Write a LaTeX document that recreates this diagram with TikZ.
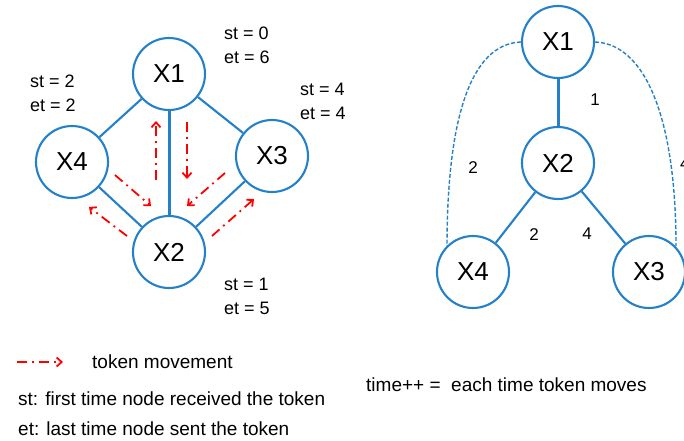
\documentclass[tikz,border=0pt]{standalone}
\usepackage{fontspec}
\setmainfont{Liberation Sans}
\usetikzlibrary{arrows.meta}
\definecolor{nblue}{RGB}{36,128,200}
\definecolor{tred}{RGB}{255,0,0}
\tikzset{
  vnode/.style={circle,draw=nblue,line width=2.1pt,minimum size=72pt,inner sep=0pt,font=\fontsize{26}{28}\selectfont},
  edge/.style={draw=nblue,line width=2.1pt},
  thickedge/.style={draw=nblue,line width=3pt},
  dashedge/.style={draw=nblue,line width=1.4pt,dash pattern=on 4pt off 2pt},
  tok/.style={draw=tred,line width=1.8pt,dash pattern=on 10pt off 5pt on 1.8pt off 5pt,-{Straight Barb[length=5pt,width=9pt,line width=1.8pt]}},
  lbl/.style={font=\fontsize{18}{21}\selectfont,anchor=west,inner sep=0pt,align=left},
  num/.style={font=\fontsize{17}{20}\selectfont,inner sep=0pt},
  note/.style={font=\fontsize{19}{22}\selectfont,anchor=west,inner sep=0pt}
}
\begin{document}
\begin{tikzpicture}[x=1pt,y=-1pt]
\useasboundingbox (0,0) rectangle (684,440);
% left graph
\node[vnode] (a1) at (169,74) {X1};
\node[vnode] (a4) at (72,162) {X4};
\node[vnode] (a3) at (272,156) {X3};
\node[vnode] (a2) at (169,252) {X2};
\draw[edge] (a1) -- (a4);
\draw[edge] (a1) -- (a3);
\draw[thickedge] (a1) -- (a2);
\draw[edge] (a2) -- (a4);
\draw[edge] (a2) -- (a3);
% token arrows
\coordinate (t1s) at (156,180); \coordinate (t1e) at (156,121);
\coordinate (t2s) at (187,122); \coordinate (t2e) at (187,179);
\coordinate (t3s) at (115,175); \coordinate (t3e) at (151,206);
\coordinate (t4s) at (127,236); \coordinate (t4e) at (89,207);
\coordinate (t5s) at (225,173); \coordinate (t5e) at (187,206);
\coordinate (t6s) at (212,236); \coordinate (t6e) at (254,199);
\draw[tok] (t1s) -- (t1e);
\draw[tok] (t2s) -- (t2e);
\draw[tok] (t3s) -- (t3e);
\draw[tok] (t4s) -- (t4e);
\draw[tok] (t5s) -- (t5e);
\draw[tok] (t6s) -- (t6e);
% st/et labels
\node[lbl] (l1) at (224,45) {st = 0\\[3pt]et = 6};
\node[lbl] (l4) at (30,93) {st = 2\\[3pt]et = 2};
\node[lbl] (l3) at (300,101) {st = 4\\[3pt]et = 4};
\node[lbl] (l2) at (224,296) {st = 1\\[3pt]et = 5};
% right graph
\node[vnode] (b1) at (558,42) {X1};
\node[vnode] (b2) at (558,163) {X2};
\node[vnode] (b4) at (473,272) {X4};
\node[vnode] (b3) at (649,272) {X3};
\draw[thickedge] (b1) -- (b2);
\draw[edge] (b2) -- (b4);
\draw[edge] (b2) -- (b3);
\draw[dashedge] (b1.west) .. controls (470,44) and (447,120) .. (447,247);
\draw[dashedge] (b1.east) .. controls (646,44) and (676,120) .. (676,246);
\node[num] (n1) at (595,100) {1};
\node[num] (n2) at (473,168) {2};
\node[num] (n3) at (534,235) {2};
\node[num] (n4) at (587,234) {4};
\node[num,anchor=west] (n5) at (680,164) {4};
% legend
\coordinate (lg1) at (17,362); \coordinate (lg2) at (63,362);
\draw[tok] (lg1) -- (lg2);
\node[note] (tm) at (92,362) {token movement};
\node[note] (st) at (18,399) {st: first time node received the token};
\node[note] (et) at (18,429) {et: last time node sent the token};
\node[note] (tp) at (366,385) {time++ =\ \ each time token moves};
\end{tikzpicture}
\end{document}
